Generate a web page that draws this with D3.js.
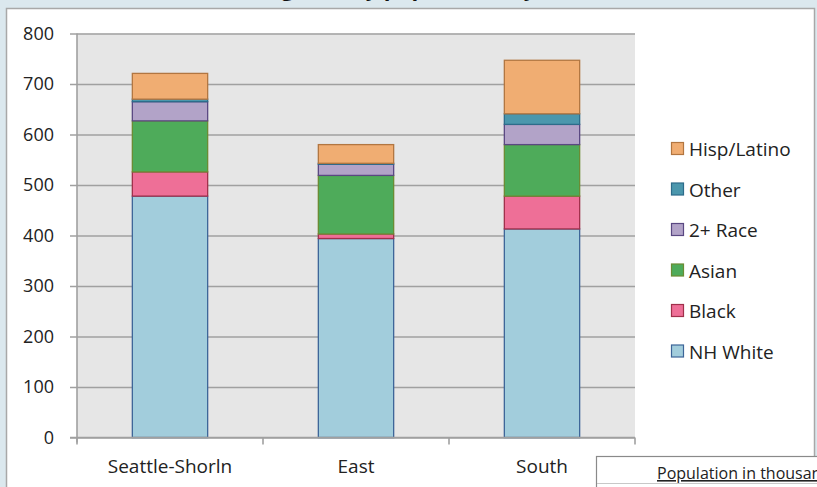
<!DOCTYPE html>
<html>
<head>
<meta charset="utf-8">
<script src="https://cdn.jsdelivr.net/npm/d3@7"></script>
<style>
  html, body { margin: 0; padding: 0; background: #dbe8ee; }
  svg { display: block; font-family: "Open Sans", Lato, sans-serif; }
</style>
</head>
<body>
<svg id="chart" width="817" height="487"></svg>
<script>
// Population (thousands) by subarea and race/ethnicity
const categories = ["Seattle-Shorln", "East", "South"];
const seriesNames = ["NH White", "Black", "Asian", "2+ Race", "Other", "Hisp/Latino"];
const nhWhite = [478, 394, 413];
const black   = [48, 9, 65];
const asian   = [101, 116, 102];
const twoRace = [38, 22, 40];
const other   = [5, 2, 21];
const hispLat = [51, 37, 106];
const yTicks  = [0, 100, 200, 300, 400, 500, 600, 700, 800];

const seriesValues = [nhWhite, black, asian, twoRace, other, hispLat];
const fills   = ["#a2cddc", "#ee6f97", "#4eab5a", "#b2a3c8", "#4b97ad", "#f0ad72"];
const strokes = ["#3d6598", "#a0304b", "#6b8c33", "#5a4882", "#2d6c8a", "#b27641"];

const rows = categories.map((c, i) => {
  const r = { cat: c };
  seriesNames.forEach((s, j) => { r[s] = seriesValues[j][i]; });
  return r;
});
const stacked = d3.stack().keys(seriesNames)(rows);

const svg = d3.select("#chart");

// Title sitting above the frame
svg.append("text")
  .attr("x", 470).attr("y", -4.5)
  .attr("text-anchor", "middle")
  .attr("font-size", 22).attr("font-weight", "bold")
  .attr("fill", "#111")
  .text("King County population by Subarea, 2010");

// Chart frame
svg.append("rect")
  .attr("x", 6.5).attr("y", 8.5).attr("width", 808).attr("height", 500)
  .attr("fill", "#fff").attr("stroke", "#a8a8a8").attr("stroke-width", 1.5);

const plot = { left: 77, right: 635, top: 33.5, bottom: 437.5 };

const x = d3.scaleBand().domain(categories).range([plot.left, plot.right]).padding(0);
const y = d3.scaleLinear().domain([0, 800]).range([plot.bottom, plot.top]);
const barW = x.bandwidth() * 0.405;

// Plot background
svg.append("rect")
  .attr("x", plot.left).attr("y", plot.top)
  .attr("width", plot.right - plot.left).attr("height", plot.bottom - plot.top)
  .attr("fill", "#e6e6e6");

// Gridlines and y axis
const yAxis = d3.axisLeft(y).tickValues(yTicks).tickSize(-(plot.right - plot.left + 7)).tickPadding(16);
const gy = svg.append("g").attr("transform", `translate(${plot.left - 7},0)`).call(yAxis);
gy.select(".domain").remove();
gy.selectAll(".tick line").attr("stroke", "#a0a0a0").attr("stroke-width", 1.6).attr("x1", 0);
gy.selectAll(".tick text").attr("font-size", 18).attr("fill", "#222")
  .attr("font-family", "'Open Sans', sans-serif");

svg.append("line")
  .attr("x1", plot.left).attr("x2", plot.left)
  .attr("y1", plot.top).attr("y2", plot.bottom + 5)
  .attr("stroke", "#a0a0a0").attr("stroke-width", 1.6);

// Stacked bars
const layers = svg.append("g").selectAll("g").data(stacked).join("g")
  .attr("fill", (d, i) => fills[i]).attr("stroke", (d, i) => strokes[i]);
layers.selectAll("rect").data(d => d).join("rect")
  .attr("x", d => x(d.data.cat) + (x.bandwidth() - barW) / 2)
  .attr("width", barW)
  .attr("y", d => y(d[1]))
  .attr("height", d => y(d[0]) - y(d[1]))
  .attr("stroke-width", 1.3);

// x axis with category-boundary ticks
svg.append("line")
  .attr("x1", plot.left - 7).attr("x2", plot.right)
  .attr("y1", plot.bottom).attr("y2", plot.bottom)
  .attr("stroke", "#a0a0a0").attr("stroke-width", 1.6);
const bounds = categories.map(c => x(c)).concat([plot.right]);
svg.append("g").selectAll("line").data(bounds).join("line")
  .attr("x1", d => d).attr("x2", d => d)
  .attr("y1", plot.bottom).attr("y2", plot.bottom + 7)
  .attr("stroke", "#a0a0a0").attr("stroke-width", 1.6);
svg.append("g").selectAll("text").data(categories).join("text")
  .attr("x", d => x(d) + x.bandwidth() / 2)
  .attr("y", 473)
  .attr("text-anchor", "middle")
  .attr("font-size", 19).attr("fill", "#222")
  .text(d => d);

// Legend, top entry is the top of the stack
const legendNames = seriesNames.slice().reverse();
const legend = svg.append("g").selectAll("g").data(legendNames).join("g")
  .attr("transform", (d, i) => `translate(671,${149 + i * 40.5})`);
legend.append("rect")
  .attr("x", 0.5).attr("y", -6.5).attr("width", 12).attr("height", 12)
  .attr("fill", d => fills[seriesNames.indexOf(d)])
  .attr("stroke", d => strokes[seriesNames.indexOf(d)]).attr("stroke-width", 1.2);
legend.append("text")
  .attr("x", 18).attr("y", 7)
  .attr("font-size", 19).attr("fill", "#222")
  .text(d => d);

// Units table below the frame
svg.append("rect")
  .attr("x", 596.5).attr("y", 456.5).attr("width", 240).attr("height", 40)
  .attr("fill", "#fff").attr("stroke", "#8a8a8a").attr("stroke-width", 1.2);
svg.append("line")
  .attr("x1", 597).attr("x2", 817).attr("y1", 483.5).attr("y2", 483.5)
  .attr("stroke", "#c8c8c8").attr("stroke-width", 1);
svg.append("text")
  .attr("x", 657).attr("y", 479)
  .attr("font-size", 16).attr("fill", "#222")
  .attr("text-decoration", "underline")
  .text("Population in thousands");
</script>
</body>
</html>
